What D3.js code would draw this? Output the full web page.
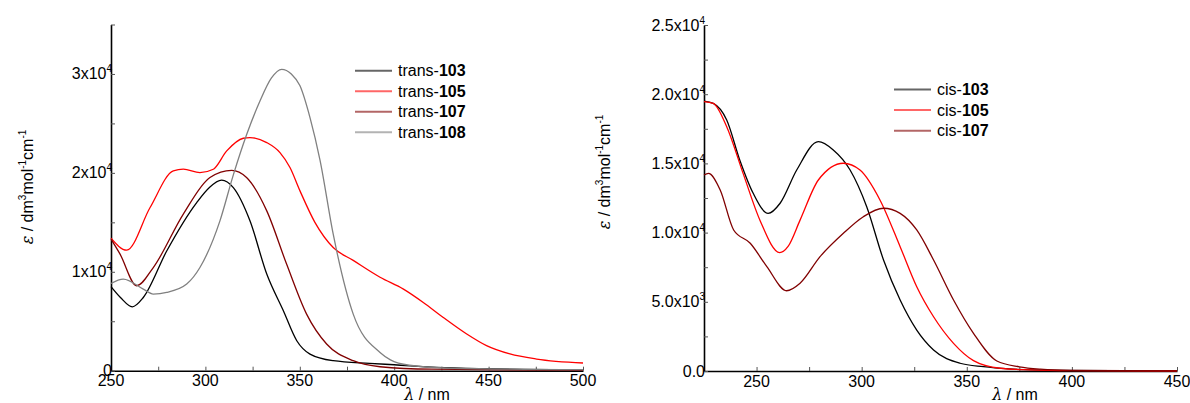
<!DOCTYPE html>
<html>
<head>
<meta charset="utf-8">
<script src="https://cdn.jsdelivr.net/npm/d3@7"></script>
<style>
  html, body { margin: 0; padding: 0; background: #fff; }
  svg { display: block; font-family: "Liberation Sans", Arial, Helvetica, sans-serif; }
</style>
</head>
<body>
<svg id="chart" width="1190" height="403"></svg>
<script>
// ---------------- DATA ----------------
// Left panel: trans isomers (wavelength nm, epsilon)
const transWl103 = [250, 255, 261.3, 267.1, 279.5, 295.4, 302, 308.6, 314.8, 323.6, 332.5, 341.3, 348.4, 355.4, 367.7, 387, 400, 422.5, 450, 500];
const trans103   = [8500, 7400, 6460, 7400, 12100, 17000, 18500, 19260, 18500, 15150, 9770, 6060, 3030, 1680, 1010, 740, 600, 340, 200, 100];

const transWl105 = [250, 258.3, 270.7, 283, 288.3, 297.1, 304.2, 311.3, 320.1, 323.6, 332.5, 339.5, 344.8, 350.1, 358, 367.7, 378.3, 392.5, 404.9, 415.4, 426, 438.4, 448.9, 461.3, 475.4, 500];
const trans105   = [13400, 12190, 16500, 20200, 20370, 20030, 20370, 22220, 23500, 23570, 23060, 22050, 20540, 18180, 15000, 12450, 11150, 9450, 8250, 6900, 5380, 3710, 2530, 1690, 1180, 780];

const transWl107 = [250, 254.8, 263.6, 272.4, 288.3, 302.4, 313.9, 321.8, 332.5, 343, 353.6, 364.2, 378.3, 392.5, 420, 500];
const trans107   = [13300, 11780, 8590, 10430, 15830, 19530, 20250, 19530, 16160, 10780, 5720, 2700, 1010, 400, 150, 50];

const transWl108 = [250, 256.5, 267.1, 272.4, 279.5, 290.1, 297.1, 307.7, 314.8, 321.9, 328.9, 335, 340.4, 345.5, 350.1, 355.4, 360.7, 367.7, 378.3, 392.5, 398, 408, 430, 500];
const trans108   = [8820, 9260, 8250, 7750, 7910, 8760, 10430, 15150, 19800, 23900, 27270, 29600, 30470, 30000, 28800, 25590, 21300, 13800, 5720, 1850, 1100, 550, 250, 100];

// Right panel: cis isomers
const cisWl103 = [225, 229.4, 235.8, 242, 248.4, 255.5, 261.2, 269.1, 279.4, 286.5, 294.5, 302.4, 310.4, 318.3, 326.2, 334.2, 346.8, 357.9, 370, 390, 450];
const cis103   = [19500, 19340, 18140, 15250, 12840, 11390, 12120, 14520, 16570, 15970, 14520, 11870, 8020, 5130, 2960, 1520, 560, 310, 150, 50, 0];

const cisWl105 = [225, 229.4, 235.8, 243.6, 251.6, 261, 265, 270.7, 279.4, 291.3, 299.2, 308.7, 318.3, 326.2, 334.2, 343.7, 353.2, 365.8, 380, 400, 450];
const cis105   = [19460, 19340, 17650, 14280, 10900, 8550, 9000, 10900, 13800, 15010, 14520, 12360, 8980, 6090, 3920, 2000, 750, 200, 80, 20, 0];

const cisWl107 = [225, 227.1, 232.7, 239.1, 247, 254.9, 264.3, 270.7, 280.2, 291.3, 300.8, 310.4, 318.3, 326.2, 334.2, 343.7, 353.2, 364.3, 375, 385, 400, 450];
const cis107   = [14160, 14280, 13080, 10190, 9230, 7540, 5800, 6340, 8260, 9950, 11150, 11760, 11390, 10190, 8020, 5130, 2720, 720, 300, 130, 40, 0];

// Tick labels
const leftXTicks = [250, 300, 350, 400, 450, 500];
const leftYTicks = [0, 10000, 20000, 30000];
const leftYTickMain = ["0", "1x10", "2x10", "3x10"];
const leftYTickSup  = ["", "4", "4", "4"];
const rightXTicks = [250, 300, 350, 400, 450];
const rightYTicks = [0, 5000, 10000, 15000, 20000, 25000];
const rightYTickMain = ["0.0", "5.0x10", "1.0x10", "1.5x10", "2.0x10", "2.5x10"];
const rightYTickSup  = ["", "3", "4", "4", "4", "4"];

const transNames = ["103", "105", "107", "108"];
const cisNames = ["103", "105", "107"];

// ---------------- DRAW ----------------
const colors = {"103": "#000000", "105": "#ff0000", "107": "#800000", "108": "#808080"};
const svg = d3.select("#chart");

function zip(a, b) { return a.map((v, i) => [v, b[i]]); }

function panel(opts) {
  const g = svg.append("g");
  const x = d3.scaleLinear().domain(opts.xDomain).range(opts.xRange);
  const y = d3.scaleLinear().domain(opts.yDomain).range(opts.yRange);

  g.append("g")
    .attr("transform", `translate(0,${opts.yRange[0]})`)
    .call(d3.axisBottom(x).tickValues(d3.range(opts.xDomain[0], opts.xDomain[1] + 0.1, opts.xMinorStep))
      .tickSizeInner(-4).tickSizeOuter(0).tickFormat(() => ""))
    .call(s => s.select(".domain").attr("stroke", "#000").attr("stroke-width", 1.6))
    .call(s => s.selectAll(".tick line").attr("stroke", "#555").attr("stroke-width", 1));

  g.append("g")
    .attr("transform", `translate(${opts.xRange[0]},0)`)
    .call(d3.axisLeft(y).tickValues(d3.range(opts.yDomain[0], opts.yDomain[1] + 1, opts.yMinorStep))
      .tickSizeInner(-4).tickSizeOuter(0).tickFormat(() => ""))
    .call(s => s.select(".domain").attr("stroke", "#000").attr("stroke-width", 1.6))
    .call(s => s.selectAll(".tick line").attr("stroke", "#555").attr("stroke-width", 1));

  g.selectAll(".xl").data(opts.xTicks).enter().append("text")
    .attr("x", d => x(d)).attr("y", opts.yRange[0] + 15.5)
    .attr("text-anchor", "middle").attr("font-size", 16).attr("fill", "#000")
    .text(d => d);

  opts.yTicks.forEach((v, i) => {
    const t = g.append("text")
      .attr("x", opts.xRange[0] + 1).attr("y", y(v) + 5.5)
      .attr("text-anchor", "end").attr("font-size", 16).attr("fill", "#000");
    t.append("tspan").text(opts.yMain[i]);
    if (opts.ySup[i]) {
      t.append("tspan").attr("font-size", 10).attr("dy", -7).text(opts.ySup[i]);
    }
  });

  const xt = g.append("text")
    .attr("x", opts.xTitleX).attr("y", 400)
    .attr("text-anchor", "middle").attr("font-size", 16).attr("fill", "#000");
  xt.append("tspan").attr("font-style", "italic").attr("font-family", "DejaVu Serif, serif").text("λ");
  xt.append("tspan").text(" / nm");

  const yt = g.append("text")
    .attr("transform", `translate(${opts.yTitleX},${opts.yTitleY}) rotate(-90)`)
    .attr("text-anchor", "middle").attr("font-size", 16).attr("fill", "#000");
  yt.append("tspan").attr("font-style", "italic").attr("font-family", "DejaVu Serif, serif").text("ε");
  yt.append("tspan").text(" / dm");
  yt.append("tspan").attr("font-size", 10).attr("dy", -7).text("3");
  yt.append("tspan").attr("dy", 7).text("mol");
  yt.append("tspan").attr("font-size", 10).attr("dy", -7).text("-1");
  yt.append("tspan").attr("dy", 7).text("cm");
  yt.append("tspan").attr("font-size", 10).attr("dy", -7).text("-1");

  const line = d3.line().x(d => x(d[0])).y(d => y(d[1])).curve(d3.curveMonotoneX);
  opts.series.forEach(s => {
    g.append("path").datum(zip(s.wl, s.val))
      .attr("fill", "none").attr("stroke", colors[s.name]).attr("stroke-width", 1.3)
      .attr("d", line);
  });

  opts.series.forEach((s, i) => {
    const ly = opts.legendY + i * opts.legendStep;
    g.append("line")
      .attr("x1", opts.legendX).attr("x2", opts.legendX + 37)
      .attr("y1", ly).attr("y2", ly)
      .attr("stroke", colors[s.name]).attr("stroke-width", 2).attr("stroke-opacity", 0.6);
    const t = g.append("text")
      .attr("x", opts.legendX + 43).attr("y", ly + 5.5)
      .attr("font-size", 16).attr("fill", "#000");
    t.append("tspan").text(opts.prefix + "-");
    t.append("tspan").attr("font-weight", "bold").text(s.name);
  });
}

panel({
  xDomain: [250, 500], xRange: [111, 583],
  yDomain: [0, 35000], yRange: [370.7, 24.5],
  xMinorStep: 25, yMinorStep: 5000,
  xTicks: leftXTicks, yTicks: leftYTicks, yMain: leftYTickMain, ySup: leftYTickSup,
  xTitleX: 427, yTitleX: 33, yTitleY: 187,
  prefix: "trans", legendX: 355, legendY: 70.7, legendStep: 20.5,
  series: [
    {name: transNames[0], wl: transWl103, val: trans103},
    {name: transNames[1], wl: transWl105, val: trans105},
    {name: transNames[2], wl: transWl107, val: trans107},
    {name: transNames[3], wl: transWl108, val: trans108}
  ]
});

panel({
  xDomain: [225, 450], xRange: [704, 1177],
  yDomain: [0, 25000], yRange: [371, 25],
  xMinorStep: 25, yMinorStep: 2500,
  xTicks: rightXTicks, yTicks: rightYTicks, yMain: rightYTickMain, ySup: rightYTickSup,
  xTitleX: 1015, yTitleX: 610, yTitleY: 172,
  prefix: "cis", legendX: 894, legendY: 89.5, legendStep: 20.6,
  series: [
    {name: cisNames[0], wl: cisWl103, val: cis103},
    {name: cisNames[1], wl: cisWl105, val: cis105},
    {name: cisNames[2], wl: cisWl107, val: cis107}
  ]
});
</script>
</body>
</html>
